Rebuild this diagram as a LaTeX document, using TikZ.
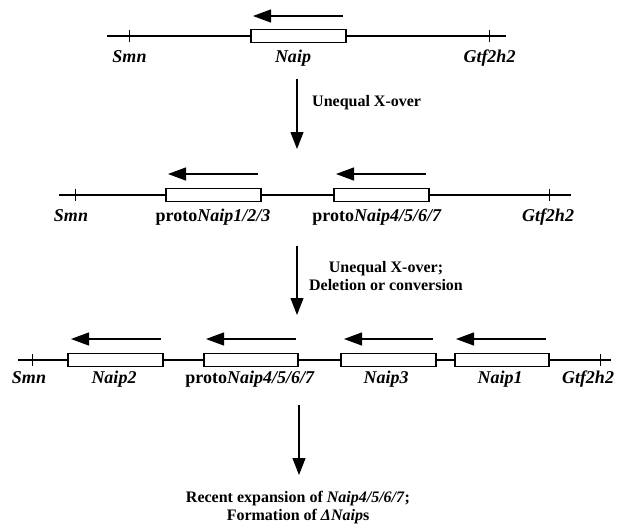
\documentclass[tikz,border=0pt]{standalone}
\usepackage{fontspec}
\setmainfont{Liberation Serif}
\usetikzlibrary{arrows.meta}
\begin{document}
\begin{tikzpicture}[x=1pt,y=-1pt,
  chrom/.style={line width=1.1pt},
  genebox/.style={draw,line width=1.2pt,fill=white,minimum height=13pt,inner sep=0pt,outer sep=0pt},
  tick/.style={line width=1pt},
  dirarrow/.style={line width=1.2pt,-{Triangle[length=18pt,width=13pt]}},
  steparrow/.style={line width=1.2pt,-{Triangle[length=17pt,width=13pt]}},
  lbl/.style={font=\fontsize{18}{21}\selectfont\bfseries,anchor=base,inner sep=0pt},
  note/.style={font=\fontsize{16}{18}\selectfont\bfseries,align=center,inner sep=0pt}]
\useasboundingbox (0,0) rectangle (618,525);
% ---------- top row ----------
\coordinate (aL) at (107,36);
\coordinate (aR) at (506,36);
\coordinate (aT1) at (129,36);
\coordinate (aT2) at (489,36);
\node[genebox,minimum width=95pt] (aB) at (298.5,36) {};
\draw[chrom] (aL) -- (aB.west);
\draw[chrom] (aB.east) -- (aR);
\foreach \t in {aT1,aT2} \draw[tick] ([yshift=6pt]\t) -- ([yshift=-6pt]\t);
\coordinate (aAs) at (343,16);
\coordinate (aAe) at (253,16);
\draw[dirarrow] (aAs) -- (aAe);
\node[lbl] (aSmn) at (129.5,62) {\itshape Smn};
\node[lbl] (aNaip) at (293,62) {\itshape Naip};
\node[lbl] (aGtf) at (489.5,62) {\itshape Gtf2h2};
% ---------- arrow 1 ----------
\coordinate (s1a) at (297,79);
\coordinate (s1b) at (297,149);
\draw[steparrow] (s1a) -- (s1b);
\node[note,anchor=west] (n1) at (312,103) {Unequal X-over};
% ---------- middle row ----------
\coordinate (bL) at (59,195);
\coordinate (bR) at (571,195);
\coordinate (bT1) at (75,195);
\coordinate (bT2) at (549,195);
\node[genebox,minimum width=95pt] (bB1) at (213.5,195) {};
\node[genebox,minimum width=95pt] (bB2) at (381.5,195) {};
\draw[chrom] (bL) -- (bB1.west);
\draw[chrom] (bB1.east) -- (bB2.west);
\draw[chrom] (bB2.east) -- (bR);
\foreach \t in {bT1,bT2} \draw[tick] ([yshift=6pt]\t) -- ([yshift=-6pt]\t);
\coordinate (bA1s) at (258,174);
\coordinate (bA1e) at (168,174);
\coordinate (bA2s) at (426,174);
\coordinate (bA2e) at (336,174);
\draw[dirarrow] (bA1s) -- (bA1e);
\draw[dirarrow] (bA2s) -- (bA2e);
\node[lbl] (bSmn) at (71,221) {\itshape Smn};
\node[lbl] (bP1) at (213,221) {proto\textit{Naip1/2/3}};
\node[lbl] (bP2) at (377,221) {proto\textit{Naip4/5/6/7}};
\node[lbl] (bGtf) at (548,221) {\itshape Gtf2h2};
% ---------- arrow 2 ----------
\coordinate (s2a) at (297,246);
\coordinate (s2b) at (297,315);
\draw[steparrow] (s2a) -- (s2b);
\node[note] (n2) at (386,276.5) {Unequal X-over;\\Deletion or conversion};
% ---------- bottom row ----------
\coordinate (cL) at (18,360);
\coordinate (cR) at (611,360);
\coordinate (cT1) at (32,360);
\coordinate (cT2) at (600,360);
\node[genebox,minimum width=95pt] (cB1) at (115.5,360) {};
\node[genebox,minimum width=94pt] (cB2) at (251,360) {};
\node[genebox,minimum width=95pt] (cB3) at (388.5,360) {};
\node[genebox,minimum width=94pt] (cB4) at (502,360) {};
\draw[chrom] (cL) -- (cB1.west);
\draw[chrom] (cB1.east) -- (cB2.west);
\draw[chrom] (cB2.east) -- (cB3.west);
\draw[chrom] (cB3.east) -- (cB4.west);
\draw[chrom] (cB4.east) -- (cR);
\foreach \t in {cT1,cT2} \draw[tick] ([yshift=6pt]\t) -- ([yshift=-6pt]\t);
\coordinate (cA1s) at (161,339);
\coordinate (cA1e) at (71,339);
\coordinate (cA2s) at (296,339);
\coordinate (cA2e) at (206,339);
\coordinate (cA3s) at (433,339);
\coordinate (cA3e) at (344,339);
\coordinate (cA4s) at (546,339);
\coordinate (cA4e) at (456,339);
\draw[dirarrow] (cA1s) -- (cA1e);
\draw[dirarrow] (cA2s) -- (cA2e);
\draw[dirarrow] (cA3s) -- (cA3e);
\draw[dirarrow] (cA4s) -- (cA4e);
\node[lbl] (cSmn) at (29,383) {\itshape Smn};
\node[lbl] (cN2) at (114,383) {\itshape Naip2};
\node[lbl] (cP) at (250,383) {proto\textit{Naip4/5/6/7}};
\node[lbl] (cN3) at (386,383) {\itshape Naip3};
\node[lbl] (cN1) at (500,383) {\itshape Naip1};
\node[lbl] (cGtf) at (588,383) {\itshape Gtf2h2};
% ---------- arrow 3 ----------
\coordinate (s3a) at (299,405);
\coordinate (s3b) at (299,475);
\draw[steparrow] (s3a) -- (s3b);
\node[note] (n3) at (298,507.5) {Recent expansion of \textit{Naip4/5/6/7};\\Formation of \textit{ΔNaip}s};
\end{tikzpicture}
\end{document}
